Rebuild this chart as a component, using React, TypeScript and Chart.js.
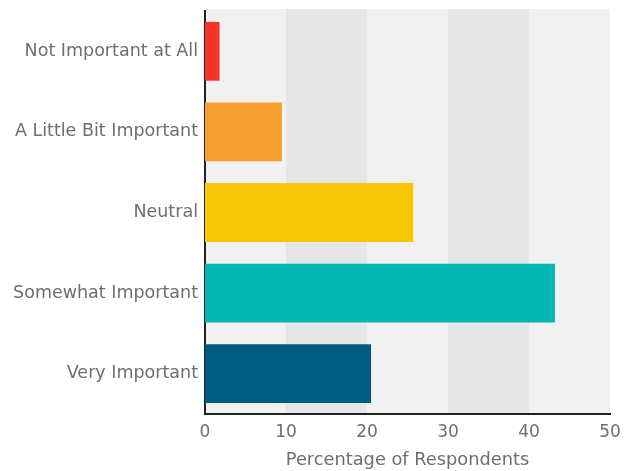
import React, { useEffect, useRef } from "react";
import { Chart, registerables } from "chart.js";

Chart.register(...registerables);

const categories = [
  "Not Important at All",
  "A Little Bit Important",
  "Neutral",
  "Somewhat Important",
  "Very Important",
];
const percentages = [1.8, 9.5, 25.7, 43.2, 20.5];
const barColors = ["#F2342A", "#F7A030", "#F9C606", "#00B8B1", "#005C7E"];
const xTicks = [0, 10, 20, 30, 40, 50];
const xTitle = "Percentage of Respondents";

const FONT = "'DejaVu Sans', 'Open Sans', sans-serif";
const TEXT = "#6D6E71";

// Alternating vertical bands behind the bars, one per 10-point interval
const bandPlugin = {
  id: "bands",
  beforeDraw(chart: any) {
    const { ctx, chartArea, scales } = chart;
    const x = scales.x;
    const top = chartArea.top - 2;
    ctx.save();
    for (let i = 0; i < xTicks.length - 1; i++) {
      const a = x.getPixelForValue(xTicks[i]);
      const b = x.getPixelForValue(xTicks[i + 1]);
      ctx.fillStyle = i % 2 === 0 ? "#F1F1F1" : "#E5E6E8";
      ctx.fillRect(a, top, b - a, chartArea.bottom - top);
    }
    ctx.restore();
  },
};

export default function App() {
  const ref = useRef<HTMLCanvasElement>(null);

  useEffect(() => {
    document.body.style.margin = "0";
    const chart = new Chart(ref.current!, {
      type: "bar",
      data: {
        labels: categories,
        datasets: [
          {
            data: percentages,
            backgroundColor: barColors,
            barPercentage: 0.73,
            categoryPercentage: 1,
          },
        ],
      },
      plugins: [bandPlugin],
      options: {
        indexAxis: "y",
        animation: false,
        responsive: false,
        layout: { padding: { top: 11, right: 19, left: 0, bottom: 0 } },
        plugins: { legend: { display: false }, tooltip: { enabled: false } },
        scales: {
          x: {
            min: 0,
            max: 50,
            afterBuildTicks(scale: any) {
              scale.ticks = xTicks.map((v) => ({ value: v }));
            },
            afterFit(scale: any) {
              scale.height = 57;
              scale.paddingLeft = 0;
              scale.paddingRight = 0;
            },
            grid: { display: false, drawTicks: false },
            border: { display: true, color: "#222222", width: 2 },
            ticks: {
              color: TEXT,
              font: { family: FONT, size: 17 },
              padding: 8,
            },
            title: {
              display: true,
              text: xTitle,
              color: TEXT,
              font: { family: FONT, size: 17.8 },
              padding: { top: 2, bottom: 0 },
            },
          },
          y: {
            afterFit(scale: any) {
              scale.width = 205;
              scale.paddingTop = 0;
              scale.paddingBottom = 0;
            },
            grid: { display: false, drawTicks: false },
            border: { display: true, color: "#222222", width: 2 },
            ticks: {
              color: TEXT,
              font: { family: FONT, size: 17.5 },
              padding: 7,
            },
          },
        },
      },
    });
    return () => chart.destroy();
  }, []);

  return <canvas ref={ref} width={629} height={471} style={{ display: "block" }} />;
}
